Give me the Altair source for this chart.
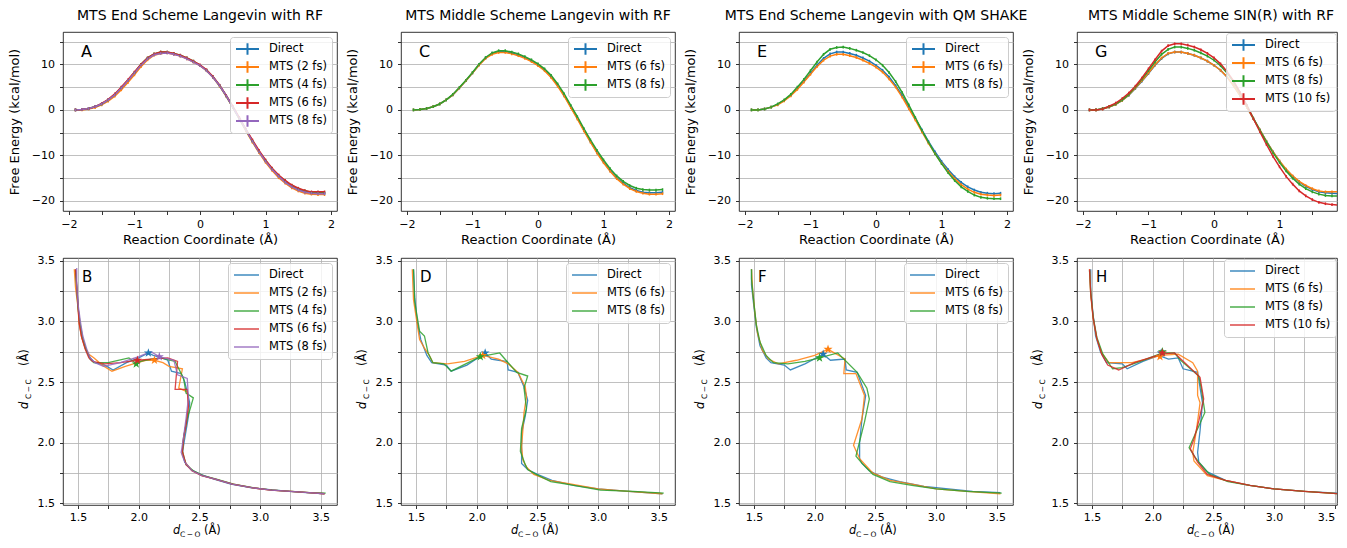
import altair as alt
import pandas as pd

FONT = "DejaVu Sans"
COLORS = ["#1f77b4", "#ff7f0e", "#2ca02c", "#d62728", "#9467bd"]

# ---------------- free-energy profiles (top row) ----------------
RC = [-1.9, -1.8, -1.7, -1.6, -1.5, -1.4, -1.3, -1.2, -1.1, -1.0,
      -0.9, -0.8, -0.7, -0.6, -0.5, -0.4, -0.3, -0.2, -0.1, 0.0,
      0.1, 0.2, 0.3, 0.4, 0.5, 0.6, 0.7, 0.8, 0.9, 1.0,
      1.1, 1.2, 1.3, 1.4, 1.5, 1.6, 1.7, 1.8, 1.9]

A_NAMES = ["Direct", "MTS (2 fs)", "MTS (4 fs)", "MTS (6 fs)", "MTS (8 fs)"]
A_DIRECT = [0.0, 0.1, 0.3, 0.7, 1.3, 2.2, 3.3, 4.8, 6.4, 8.1,
            9.9, 11.3, 12.2, 12.6, 12.6, 12.3, 11.9, 11.3, 10.6, 9.8,
            8.7, 7.2, 5.3, 3.1, 0.6, -1.9, -4.4, -6.9, -9.2, -11.2,
            -13.0, -14.6, -15.8, -16.8, -17.5, -18.0, -18.2, -18.3, -18.3]
A_MTS2 = [0.0, 0.0, 0.2, 0.5, 1.1, 1.9, 3.0, 4.4, 6.0, 7.7,
          9.5, 11.0, 12.0, 12.4, 12.5, 12.2, 11.8, 11.2, 10.5, 9.7,
          8.6, 7.1, 5.2, 3.0, 0.5, -2.0, -4.6, -7.1, -9.4, -11.5,
          -13.3, -14.9, -16.1, -17.1, -17.8, -18.3, -18.5, -18.6, -18.6]
A_MTS4 = [0.0, 0.1, 0.3, 0.7, 1.3, 2.2, 3.4, 4.9, 6.5, 8.2,
          10.0, 11.4, 12.3, 12.7, 12.7, 12.4, 12.0, 11.4, 10.7, 9.8,
          8.7, 7.2, 5.3, 3.1, 0.6, -1.9, -4.4, -6.8, -9.1, -11.1,
          -12.9, -14.4, -15.6, -16.6, -17.3, -17.8, -18.1, -18.2, -18.2]
A_MTS6 = [0.0, 0.1, 0.3, 0.7, 1.4, 2.3, 3.5, 5.0, 6.6, 8.3,
          10.0, 11.4, 12.3, 12.7, 12.7, 12.4, 12.0, 11.4, 10.7, 9.9,
          8.8, 7.3, 5.4, 3.2, 0.8, -1.7, -4.2, -6.6, -8.9, -11.0,
          -12.8, -14.3, -15.5, -16.5, -17.2, -17.7, -18.0, -18.0, -18.0]
A_MTS8 = [0.0, 0.1, 0.3, 0.7, 1.3, 2.2, 3.3, 4.8, 6.4, 8.1,
          9.8, 11.2, 12.1, 12.4, 12.5, 12.2, 11.8, 11.2, 10.5, 9.7,
          8.6, 7.1, 5.3, 3.1, 0.6, -1.9, -4.4, -6.9, -9.2, -11.3,
          -13.1, -14.6, -15.9, -16.9, -17.6, -18.1, -18.3, -18.4, -18.4]

C_NAMES = ["Direct", "MTS (6 fs)", "MTS (8 fs)"]
C_DIRECT = [0.0, 0.1, 0.3, 0.7, 1.3, 2.2, 3.3, 4.8, 6.4, 8.1,
            9.9, 11.4, 12.4, 12.8, 12.8, 12.5, 12.1, 11.5, 10.8, 9.9,
            8.8, 7.3, 5.4, 3.2, 0.7, -1.8, -4.4, -6.9, -9.3, -11.4,
            -13.3, -14.9, -16.1, -17.1, -17.7, -18.1, -18.2, -18.2, -18.1]
C_MTS6 = [0.0, 0.1, 0.3, 0.7, 1.3, 2.2, 3.3, 4.8, 6.4, 8.1,
          9.8, 11.3, 12.2, 12.6, 12.6, 12.3, 11.9, 11.3, 10.6, 9.7,
          8.6, 7.1, 5.2, 3.0, 0.5, -2.0, -4.6, -7.1, -9.5, -11.6,
          -13.5, -15.1, -16.3, -17.3, -17.9, -18.3, -18.5, -18.5, -18.4]
C_MTS8 = [0.0, 0.1, 0.3, 0.7, 1.3, 2.2, 3.4, 4.9, 6.5, 8.2,
          10.0, 11.5, 12.5, 13.0, 13.0, 12.7, 12.3, 11.7, 11.0, 10.1,
          9.0, 7.6, 5.7, 3.5, 1.0, -1.5, -4.1, -6.6, -8.9, -11.0,
          -12.9, -14.5, -15.7, -16.6, -17.2, -17.5, -17.6, -17.6, -17.5]

E_NAMES = ["Direct", "MTS (6 fs)", "MTS (8 fs)"]
E_DIRECT = [0.0, 0.0, 0.2, 0.6, 1.2, 2.1, 3.2, 4.7, 6.3, 8.0,
            9.8, 11.3, 12.3, 12.7, 12.7, 12.4, 12.0, 11.4, 10.7, 9.8,
            8.7, 7.2, 5.3, 3.1, 0.6, -1.9, -4.4, -6.9, -9.2, -11.3,
            -13.1, -14.7, -15.9, -16.9, -17.6, -18.1, -18.3, -18.4, -18.3]
E_MTS6 = [0.0, 0.0, 0.2, 0.6, 1.1, 2.0, 3.1, 4.5, 6.1, 7.8,
          9.5, 10.9, 11.8, 12.2, 12.2, 11.9, 11.5, 10.9, 10.2, 9.4,
          8.3, 6.8, 5.0, 2.8, 0.3, -2.2, -4.8, -7.3, -9.6, -11.7,
          -13.5, -15.1, -16.4, -17.4, -18.1, -18.5, -18.7, -18.8, -18.7]
E_MTS8 = [0.0, 0.0, 0.2, 0.6, 1.3, 2.2, 3.4, 5.0, 6.7, 8.6,
          10.5, 12.2, 13.3, 13.7, 13.8, 13.5, 13.1, 12.6, 11.9, 11.0,
          9.8, 8.2, 6.2, 3.8, 1.1, -1.7, -4.5, -7.1, -9.6, -11.8,
          -13.8, -15.5, -16.9, -17.9, -18.7, -19.2, -19.4, -19.5, -19.5]

G_NAMES = ["Direct", "MTS (6 fs)", "MTS (8 fs)", "MTS (10 fs)"]
G_DIRECT = [0.0, 0.0, 0.2, 0.6, 1.2, 2.1, 3.2, 4.7, 6.3, 8.0,
            9.8, 11.3, 12.3, 12.7, 12.7, 12.4, 12.0, 11.4, 10.7, 9.8,
            8.7, 7.2, 5.3, 3.1, 0.6, -1.9, -4.4, -6.9, -9.2, -11.3,
            -13.1, -14.6, -15.8, -16.8, -17.5, -18.0, -18.2, -18.3, -18.4]
G_MTS6 = [0.0, 0.0, 0.2, 0.6, 1.2, 2.1, 3.3, 4.8, 6.4, 8.1,
          9.9, 11.4, 12.4, 12.7, 12.7, 12.4, 12.0, 11.4, 10.7, 9.8,
          8.7, 7.2, 5.3, 3.1, 0.6, -1.9, -4.4, -6.9, -9.2, -11.2,
          -13.0, -14.5, -15.7, -16.6, -17.3, -17.8, -18.0, -18.0, -18.0]
G_MTS8 = [0.0, 0.0, 0.3, 0.7, 1.3, 2.2, 3.4, 5.0, 6.7, 8.6,
          10.5, 12.2, 13.3, 13.8, 13.8, 13.5, 13.1, 12.5, 11.8, 10.9,
          9.7, 8.1, 6.1, 3.7, 1.0, -1.8, -4.5, -7.0, -9.4, -11.5,
          -13.4, -15.0, -16.3, -17.3, -18.0, -18.5, -18.8, -18.9, -18.9]
G_MTS10 = [0.0, 0.0, 0.2, 0.8, 1.5, 2.5, 3.7, 5.2, 7.0, 9.0,
           11.0, 12.9, 14.1, 14.5, 14.5, 14.2, 13.8, 13.2, 12.4, 11.4,
           10.1, 8.4, 6.3, 3.8, 1.0, -1.9, -4.8, -7.6, -10.2, -12.5,
           -14.6, -16.3, -17.8, -18.9, -19.7, -20.3, -20.6, -20.8, -20.9]

ERR = 0.3  # half-length of the small error bars (kcal/mol)

# ---------------- 2-D paths (bottom row): (d_C-O, d_C-C) ----------------
B_DIRECT = [(1.48, 3.43), (1.49, 3.30), (1.50, 3.15), (1.51, 3.00), (1.53, 2.88), (1.56, 2.78),
            (1.60, 2.70), (1.64, 2.66), (1.72, 2.64), (1.79, 2.60), (1.90, 2.66), (2.00, 2.70),
            (2.08, 2.74), (2.12, 2.72), (2.19, 2.70), (2.24, 2.68), (2.27, 2.59), (2.35, 2.57),
            (2.38, 2.50), (2.40, 2.42), (2.42, 2.33), (2.41, 2.22), (2.39, 2.10), (2.37, 1.98),
            (2.36, 1.91), (2.38, 1.84), (2.43, 1.78), (2.51, 1.74), (2.62, 1.70), (2.76, 1.66),
            (2.92, 1.63), (3.08, 1.615), (3.24, 1.60), (3.38, 1.59), (3.53, 1.58)]
B_MTS2 = [(1.47, 3.43), (1.48, 3.28), (1.50, 3.12), (1.51, 2.98), (1.53, 2.87), (1.56, 2.78),
          (1.59, 2.73), (1.63, 2.70), (1.70, 2.64), (1.78, 2.59), (1.89, 2.63), (1.99, 2.66),
          (2.06, 2.68), (2.13, 2.68), (2.20, 2.66), (2.25, 2.63), (2.36, 2.61), (2.33, 2.45),
          (2.40, 2.42), (2.41, 2.30), (2.39, 2.16), (2.37, 2.03), (2.36, 1.93), (2.36, 1.90),
          (2.39, 1.83), (2.44, 1.77), (2.52, 1.73), (2.63, 1.70), (2.78, 1.66), (2.93, 1.63),
          (3.09, 1.61), (3.25, 1.60), (3.40, 1.59), (3.53, 1.58)]
B_MTS4 = [(1.48, 3.42), (1.49, 3.27), (1.50, 3.12), (1.52, 2.97), (1.54, 2.86), (1.57, 2.76),
          (1.60, 2.69), (1.63, 2.66), (1.75, 2.66), (1.92, 2.70), (1.97, 2.66), (2.05, 2.68),
          (2.18, 2.70), (2.30, 2.67), (2.37, 2.53), (2.39, 2.41), (2.45, 2.37), (2.43, 2.30),
          (2.40, 2.20), (2.37, 2.05), (2.36, 1.93), (2.39, 1.82), (2.45, 1.77), (2.53, 1.73),
          (2.64, 1.70), (2.78, 1.66), (2.94, 1.63), (3.10, 1.61), (3.26, 1.60), (3.41, 1.59),
          (3.54, 1.585)]
B_MTS6 = [(1.48, 3.43), (1.49, 3.29), (1.50, 3.14), (1.51, 2.99), (1.53, 2.87), (1.56, 2.77),
          (1.59, 2.70), (1.62, 2.67), (1.72, 2.65), (1.85, 2.66), (1.99, 2.68), (2.10, 2.69),
          (2.24, 2.70), (2.32, 2.67), (2.30, 2.44), (2.40, 2.44), (2.41, 2.31), (2.39, 2.15),
          (2.37, 2.04), (2.36, 1.93), (2.39, 1.82), (2.44, 1.77), (2.52, 1.73), (2.63, 1.70),
          (2.77, 1.66), (2.93, 1.63), (3.09, 1.61), (3.25, 1.60), (3.40, 1.59), (3.53, 1.58)]
B_MTS8 = [(1.49, 3.44), (1.49, 3.30), (1.50, 3.15), (1.52, 3.00), (1.54, 2.88), (1.57, 2.78),
          (1.60, 2.70), (1.64, 2.66), (1.71, 2.63), (1.85, 2.66), (2.00, 2.71), (2.10, 2.75),
          (2.17, 2.71), (2.29, 2.68), (2.32, 2.56), (2.40, 2.53), (2.41, 2.37), (2.39, 2.20),
          (2.37, 2.05), (2.35, 1.92), (2.38, 1.84), (2.44, 1.77), (2.52, 1.73), (2.63, 1.70),
          (2.77, 1.66), (2.93, 1.63), (3.09, 1.61), (3.25, 1.60), (3.40, 1.59), (3.53, 1.58)]
B_STARS = [(2.08, 2.74), (2.13, 2.68), (1.98, 2.65), (1.99, 2.68), (2.17, 2.71)]

D_DIRECT = [(1.48, 3.43), (1.49, 3.20), (1.51, 3.00), (1.54, 2.85), (1.59, 2.72), (1.63, 2.66),
            (1.75, 2.64), (1.79, 2.59), (1.92, 2.64), (2.07, 2.74), (2.12, 2.69), (2.18, 2.68),
            (2.25, 2.67), (2.26, 2.60), (2.34, 2.58), (2.39, 2.46), (2.42, 2.35), (2.40, 2.22),
            (2.37, 2.08), (2.37, 1.93), (2.37, 1.83), (2.42, 1.78), (2.50, 1.74), (2.62, 1.69),
            (2.80, 1.65), (3.00, 1.62), (3.25, 1.60), (3.53, 1.58)]
D_MTS6 = [(1.47, 3.43), (1.48, 3.18), (1.51, 2.98), (1.53, 2.85), (1.57, 2.78), (1.61, 2.72),
          (1.64, 2.66), (1.76, 2.65), (1.90, 2.67), (2.05, 2.72), (2.18, 2.69), (2.26, 2.65),
          (2.34, 2.58), (2.40, 2.46), (2.41, 2.38), (2.39, 2.25), (2.38, 2.10), (2.37, 1.97),
          (2.38, 1.86), (2.41, 1.80), (2.47, 1.74), (2.60, 1.69), (2.78, 1.66), (3.00, 1.62),
          (3.25, 1.60), (3.53, 1.58)]
D_MTS8 = [(1.48, 3.43), (1.49, 3.16), (1.53, 2.92), (1.57, 2.88), (1.60, 2.74), (1.64, 2.66),
          (1.73, 2.65), (1.79, 2.59), (1.91, 2.65), (2.03, 2.71), (2.19, 2.74), (2.25, 2.67),
          (2.33, 2.58), (2.42, 2.55), (2.39, 2.45), (2.41, 2.28), (2.37, 2.12), (2.36, 1.93),
          (2.40, 1.82), (2.42, 1.78), (2.49, 1.74), (2.61, 1.68), (2.74, 1.66), (3.02, 1.61),
          (3.29, 1.60), (3.54, 1.585)]
D_STARS = [(2.07, 2.74), (2.05, 2.72), (2.03, 2.71)]

F_DIRECT = [(1.48, 3.43), (1.48, 3.30), (1.50, 3.12), (1.52, 2.95), (1.55, 2.80), (1.60, 2.70),
            (1.64, 2.66), (1.75, 2.64), (1.80, 2.60), (1.92, 2.65), (2.07, 2.73), (2.13, 2.68),
            (2.25, 2.69), (2.26, 2.60), (2.35, 2.58), (2.42, 2.39), (2.39, 2.20), (2.37, 2.00),
            (2.37, 1.87), (2.39, 1.83), (2.45, 1.77), (2.55, 1.72), (2.70, 1.68), (2.90, 1.64),
            (3.10, 1.62), (3.30, 1.60), (3.53, 1.59)]
F_MTS6 = [(1.48, 3.43), (1.49, 3.25), (1.51, 3.05), (1.53, 2.90), (1.57, 2.76), (1.62, 2.69),
          (1.70, 2.65), (1.85, 2.68), (2.00, 2.72), (2.11, 2.77), (2.25, 2.69), (2.24, 2.57),
          (2.34, 2.57), (2.41, 2.39), (2.39, 2.20), (2.32, 1.98), (2.37, 1.87), (2.48, 1.75),
          (2.62, 1.69), (2.80, 1.66), (3.00, 1.62), (3.25, 1.60), (3.53, 1.58)]
F_MTS8 = [(1.48, 3.43), (1.48, 3.35), (1.50, 3.15), (1.52, 2.97), (1.55, 2.83), (1.60, 2.72),
          (1.66, 2.66), (1.78, 2.65), (1.92, 2.67), (2.04, 2.70), (2.19, 2.74), (2.35, 2.58),
          (2.43, 2.45), (2.45, 2.36), (2.41, 2.17), (2.34, 1.89), (2.39, 1.83), (2.48, 1.74),
          (2.62, 1.68), (2.80, 1.65), (3.00, 1.62), (3.25, 1.60), (3.54, 1.585)]
F_STARS = [(2.07, 2.73), (2.11, 2.77), (2.04, 2.70)]

H_DIRECT = [(1.49, 3.43), (1.49, 3.25), (1.51, 3.05), (1.53, 2.88), (1.57, 2.75), (1.62, 2.66),
            (1.75, 2.65), (1.79, 2.61), (1.92, 2.67), (2.05, 2.72), (2.13, 2.69), (2.21, 2.70),
            (2.25, 2.61), (2.37, 2.58), (2.41, 2.33), (2.39, 2.10), (2.37, 1.92), (2.38, 1.84),
            (2.45, 1.76), (2.60, 1.69), (2.80, 1.65), (3.00, 1.62), (3.25, 1.60), (3.53, 1.585)]
H_MTS6 = [(1.48, 3.43), (1.49, 3.22), (1.51, 3.02), (1.54, 2.86), (1.58, 2.74), (1.64, 2.66),
          (1.83, 2.66), (1.95, 2.69), (2.07, 2.72), (2.21, 2.73), (2.33, 2.66), (2.37, 2.59),
          (2.37, 2.39), (2.39, 2.33), (2.36, 2.10), (2.33, 1.92), (2.34, 1.85), (2.45, 1.73),
          (2.60, 1.69), (2.80, 1.65), (3.00, 1.62), (3.25, 1.60), (3.53, 1.58)]
H_MTS8 = [(1.48, 3.42), (1.49, 3.24), (1.51, 3.04), (1.54, 2.87), (1.59, 2.73), (1.67, 2.61),
          (1.75, 2.62), (1.90, 2.67), (2.08, 2.74), (2.18, 2.74), (2.23, 2.68), (2.38, 2.55),
          (2.40, 2.45), (2.43, 2.25), (2.30, 1.96), (2.35, 1.88), (2.38, 1.84), (2.47, 1.74),
          (2.62, 1.68), (2.80, 1.65), (3.00, 1.62), (3.25, 1.60), (3.53, 1.58)]
H_MTS10 = [(1.48, 3.43), (1.49, 3.23), (1.51, 3.03), (1.54, 2.86), (1.58, 2.73), (1.63, 2.64),
           (1.72, 2.60), (1.85, 2.66), (2.07, 2.73), (2.18, 2.74), (2.39, 2.54), (2.42, 2.36),
           (2.38, 2.18), (2.34, 2.03), (2.31, 1.95), (2.37, 1.84), (2.45, 1.74), (2.60, 1.69),
           (2.80, 1.65), (3.00, 1.62), (3.25, 1.60), (3.53, 1.58)]
H_STARS = [(2.07, 2.74), (2.06, 2.71), (2.08, 2.75), (2.08, 2.74)]

TOP_XTICKS = [-2, -1.5, -1, -0.5, 0, 0.5, 1, 1.5, 2]
TOP_YTICKS = [-20, -15, -10, -5, 0, 5, 10, 15]
BOT_TICKS = [1.5, 1.75, 2.0, 2.25, 2.5, 2.75, 3.0, 3.25, 3.5]

# ---------------- layout / style ----------------
W = 274          # full panel width
W_LAST = 260     # last column is cut by the window edge in the original
HT = 179
HB = 247
TOP_X = (-2.09, 2.09)
TOP_Y = (-22.2, 17.1)
BOT_X = (1.377, 3.633)
BOT_Y = (1.4875, 3.5225)
PLUS = "M-1,0H1M0,-0.5V0.5"
STAR = ("M0,-1L0.225,-0.309L0.951,-0.309L0.363,0.118L0.588,0.809L0,0.382"
        "L-0.588,0.809L-0.363,0.118L-0.951,-0.309L-0.225,-0.309Z")


def cut(dom, width):
    lo, hi = dom
    return (lo, lo + (hi - lo) * width / W)


def legend(kind, offset):
    common = dict(title=None, orient="top-right", offset=offset, labelFontSize=11.5,
                  labelFont=FONT, labelColor="black", labelOffset=9, padding=5, rowPadding=4,
                  clipHeight=14, fillColor="rgba(255,255,255,0.8)", strokeColor="#cccccc",
                  cornerRadius=3)
    if kind == "top":
        return alt.Legend(symbolType=PLUS, symbolSize=529, symbolStrokeWidth=2, **common)
    return alt.Legend(symbolType="stroke", symbolSize=625, symbolStrokeWidth=1.5, **common)


def letter_layer(letter, x, y, size):
    return alt.Chart(pd.DataFrame({"t": [letter]})).mark_text(
        align="left", baseline="alphabetic", fontSize=size, font=FONT, color="black"
    ).encode(x=alt.value(x), y=alt.value(y), text="t:N")


def top_panel(title, letter, names, series, width=W, dx=0, loff=5):
    rows = []
    for name, vals in zip(names, series):
        assert len(vals) == len(RC), name
        for i, (x, v) in enumerate(zip(RC, vals)):
            rows.append({"series": name, "rc": x, "fe": v, "lo": v - ERR, "hi": v + ERR, "i": i})
    df = pd.DataFrame(rows)
    xdom = cut(TOP_X, width)
    cscale = alt.Scale(domain=names, range=COLORS[:len(names)])
    xs = alt.Scale(domain=list(xdom), nice=False, zero=False)
    ys = alt.Scale(domain=list(TOP_Y), nice=False, zero=False)
    xaxis = alt.Axis(values=[t for t in TOP_XTICKS if t <= xdom[1]], format=".0f",
                     labelExpr="datum.value % 1 == 0 ? datum.label : ''", grid=False,
                     title="Reaction Coordinate (Å)", titlePadding=4, labelPadding=4,
                     titleFontSize=13)
    yaxis = alt.Axis(values=TOP_YTICKS, format=".0f",
                     labelExpr="datum.value % 10 == 0 ? datum.label : ''", grid=True,
                     title="Free Energy (kcal/mol)", titlePadding=9.5, labelPadding=5,
                     titleFontSize=13)
    clip = width < W
    color = alt.Color("series:N", scale=cscale, legend=legend("top", loff))
    base = alt.Chart(df)
    lines = base.mark_line(strokeWidth=1.5, clip=clip).encode(
        x=alt.X("rc:Q", scale=xs, axis=xaxis),
        y=alt.Y("fe:Q", scale=ys, axis=yaxis),
        color=color,
        order=alt.Order("i:Q"),
    )
    bars = base.mark_rule(strokeWidth=1.5, clip=clip).encode(
        x=alt.X("rc:Q", scale=xs, axis=xaxis),
        y=alt.Y("lo:Q", scale=ys, axis=yaxis),
        y2="hi:Q",
        color=color,
    )
    ttl = alt.TitleParams(title, dx=dx) if dx else title
    return alt.layer(lines, bars, letter_layer(letter, 18, 25, 16)).properties(
        width=width, height=HT, title=ttl)


def bottom_panel(letter, names, paths, stars, width=W, loff=5):
    rows = []
    for name, pts in zip(names, paths):
        for i, (x, y) in enumerate(pts):
            rows.append({"series": name, "dco": x, "dcc": y, "i": i})
    df = pd.DataFrame(rows)
    sdf = pd.DataFrame([{"series": n, "dco": s[0], "dcc": s[1]} for n, s in zip(names, stars)])
    xdom = cut(BOT_X, width)
    cscale = alt.Scale(domain=names, range=COLORS[:len(names)])
    xs = alt.Scale(domain=list(xdom), nice=False, zero=False)
    ys = alt.Scale(domain=list(BOT_Y), nice=False, zero=False)
    ax = dict(format=".1f", labelExpr="datum.value % 0.5 == 0 ? datum.label : ''",
              grid=True, title=None)
    xaxis = alt.Axis(values=[t for t in BOT_TICKS if t <= xdom[1]], labelPadding=3,
                     labelFlush=5 if width < W else False, **ax)
    yaxis = alt.Axis(values=BOT_TICKS, labelPadding=5, **ax)
    clip = width < W
    lines = alt.Chart(df).mark_line(strokeWidth=1.3, opacity=0.85, clip=clip).encode(
        x=alt.X("dco:Q", scale=xs, axis=xaxis),
        y=alt.Y("dcc:Q", scale=ys, axis=yaxis),
        color=alt.Color("series:N", scale=cscale, legend=legend("bottom", loff)),
        order=alt.Order("i:Q"),
    )
    pts = alt.Chart(sdf).mark_point(shape=STAR, filled=True, size=90, opacity=1).encode(
        x=alt.X("dco:Q", scale=xs, axis=xaxis),
        y=alt.Y("dcc:Q", scale=ys, axis=yaxis),
        color=alt.Color("series:N", scale=cscale, legend=None),
    )
    one = pd.DataFrame({"k": [0]})

    def txt(s, x, y, size, angle=0, italic=False):
        kw = dict(align="left", baseline="alphabetic", fontSize=size, font=FONT, color="black",
                  text=s)
        if angle:
            kw["angle"] = angle
        if italic:
            kw["fontStyle"] = "italic"
        return alt.Chart(one).mark_text(**kw).encode(x=alt.value(x), y=alt.value(y))

    sub_o = "C\u2009\u2212\u2009O"
    sub_c = "C\u2009\u2212\u2009C"
    titles = [
        txt("d", 110, HB + 29, 11.5, italic=True),
        txt(sub_o, 117, HB + 32, 7.5),
        txt("(Å)", 141, HB + 29, 11.5),
        txt("d", -35, 151, 11.5, angle=270, italic=True),
        txt(sub_c, -32, 141, 7.5, angle=270),
        txt("(Å)", -35, 108, 11.5, angle=270),
    ]
    return alt.layer(lines, pts, letter_layer(letter, 19, 24, 15), *titles).properties(
        width=width, height=HB)


pA = top_panel("MTS End Scheme Langevin with RF", "A", A_NAMES,
               [A_DIRECT, A_MTS2, A_MTS4, A_MTS6, A_MTS8])
pC = top_panel("MTS Middle Scheme Langevin with RF", "C", C_NAMES, [C_DIRECT, C_MTS6, C_MTS8])
pE = top_panel("MTS End Scheme Langevin with QM SHAKE", "E", E_NAMES, [E_DIRECT, E_MTS6, E_MTS8])
pG = top_panel("MTS Middle Scheme SIN(R) with RF", "G", G_NAMES,
               [G_DIRECT, G_MTS6, G_MTS8, G_MTS10], width=W_LAST, dx=4, loff=1)
pB = bottom_panel("B", A_NAMES, [B_DIRECT, B_MTS2, B_MTS4, B_MTS6, B_MTS8], B_STARS)
pD = bottom_panel("D", C_NAMES, [D_DIRECT, D_MTS6, D_MTS8], D_STARS)
pF = bottom_panel("F", E_NAMES, [F_DIRECT, F_MTS6, F_MTS8], F_STARS)
pH = bottom_panel("H", G_NAMES, [H_DIRECT, H_MTS6, H_MTS8, H_MTS10], H_STARS,
                  width=W_LAST, loff=1)

chart = alt.concat(
    pA, pC, pE, pG, pB, pD, pF, pH,
    columns=4, spacing={"row": 47, "column": 64}, bounds="flush",
).resolve_scale(
    color="independent", x="independent", y="independent"
).resolve_legend(color="independent").configure(
    font=FONT, padding={"left": 0, "top": 0, "right": 0, "bottom": 0}
).configure_view(
    stroke="black", strokeWidth=0.8
).configure_axis(
    domain=False, tickColor="black", tickWidth=0.8, tickSize=3.5, labelColor="black",
    labelFontSize=11, labelFont=FONT, titleFont=FONT, titleFontSize=11.5,
    titleFontWeight="normal", titleColor="black", gridColor="#b0b0b0", gridWidth=0.8,
    labelFlush=False, labelOverlap=False
).configure_title(
    font=FONT, fontSize=14, fontWeight="normal", anchor="middle", offset=9.5, color="black"
)

chart.save("out.html", embed_options={"renderer": "svg", "actions": False})
